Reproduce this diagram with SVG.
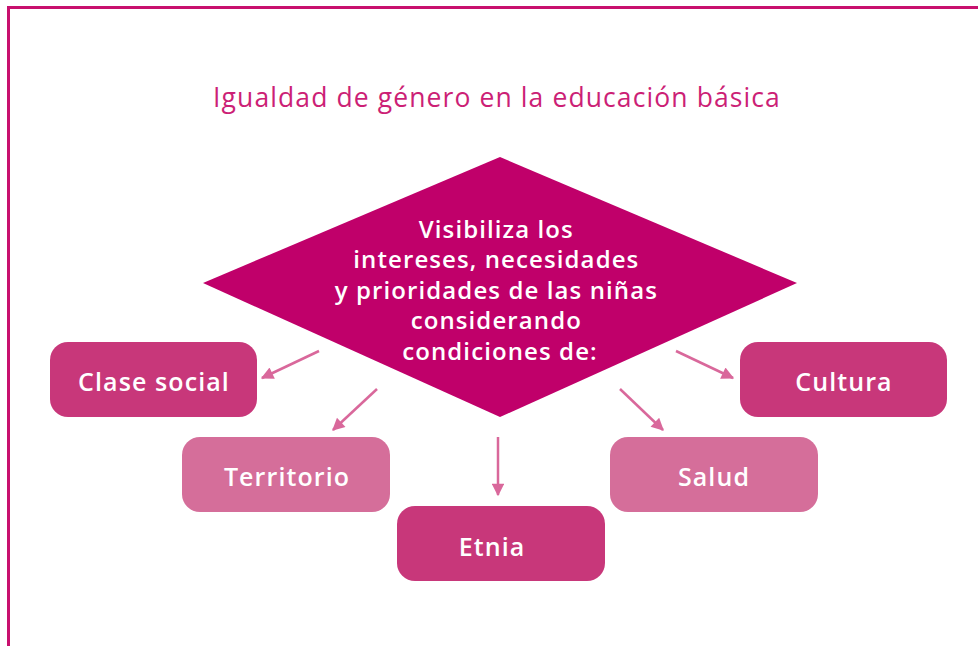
<svg xmlns="http://www.w3.org/2000/svg" width="978" height="646" viewBox="0 0 978 646">
<style>
.t{font-family:"Open Sans","Liberation Sans",sans-serif;fill:#fff;font-weight:600;text-anchor:middle}
.box{font-size:25px;letter-spacing:1.1px}
.dia{font-size:24px;letter-spacing:1.1px}
.mid{fill:#c8377a}
.lite{fill:#d56e9a}
.c{stroke:#d9689b;stroke-width:2.5;fill:none;marker-end:url(#ah)}
</style>
<defs>
<marker id="ah" viewBox="0 0 10 10" refX="9" refY="5" markerWidth="5.5" markerHeight="5" orient="auto" markerUnits="strokeWidth">
<path d="M0,0 L10,5 L0,10 z" fill="#d9689b"/>
</marker>
</defs>
<rect width="978" height="646" fill="#fff"/>
<path d="M8.5,646 V7.5 H978" fill="none" stroke="#c8106e" stroke-width="3"/>
<text x="497" y="107" font-family="'Open Sans','Liberation Sans',sans-serif" font-size="26.5" letter-spacing="1.1" fill="#cc1f76" text-anchor="middle">Igualdad de género en la educación básica</text>
<g id="center">
<polygon points="500,157 797,283 500,417 203,283" fill="#c0006a"/>
<text class="t dia">
<tspan x="500" y="237.5">Visibiliza los</tspan>
<tspan x="500" y="268">intereses, necesidades</tspan>
<tspan x="500" y="298.5">y prioridades de las niñas</tspan>
<tspan x="500" y="329">considerando</tspan>
<tspan x="500" y="359.5">condiciones de:</tspan>
</text>
</g>
<g id="connectors">
<line class="c" x1="319" y1="351" x2="262" y2="378"/>
<line class="c" x1="377" y1="389" x2="333" y2="430"/>
<line class="c" x1="498" y1="437" x2="498" y2="495"/>
<line class="c" x1="620" y1="389" x2="663" y2="430"/>
<line class="c" x1="676" y1="351" x2="733" y2="378"/>
</g>
<g id="clase">
<rect class="mid" x="50" y="342" width="207" height="75" rx="18"/>
<text class="t box" x="154" y="391">Clase social</text>
</g>
<g id="territorio">
<rect class="lite" x="182" y="437" width="208" height="75" rx="18"/>
<text class="t box" x="287" y="486">Territorio</text>
</g>
<g id="etnia">
<rect class="mid" x="397" y="506" width="208" height="75" rx="18"/>
<text class="t box" x="492" y="556">Etnia</text>
</g>
<g id="salud">
<rect class="lite" x="610" y="437" width="208" height="75" rx="18"/>
<text class="t box" x="714" y="486">Salud</text>
</g>
<g id="cultura">
<rect class="mid" x="740" y="342" width="207" height="75" rx="18"/>
<text class="t box" x="844" y="391">Cultura</text>
</g>
</svg>
